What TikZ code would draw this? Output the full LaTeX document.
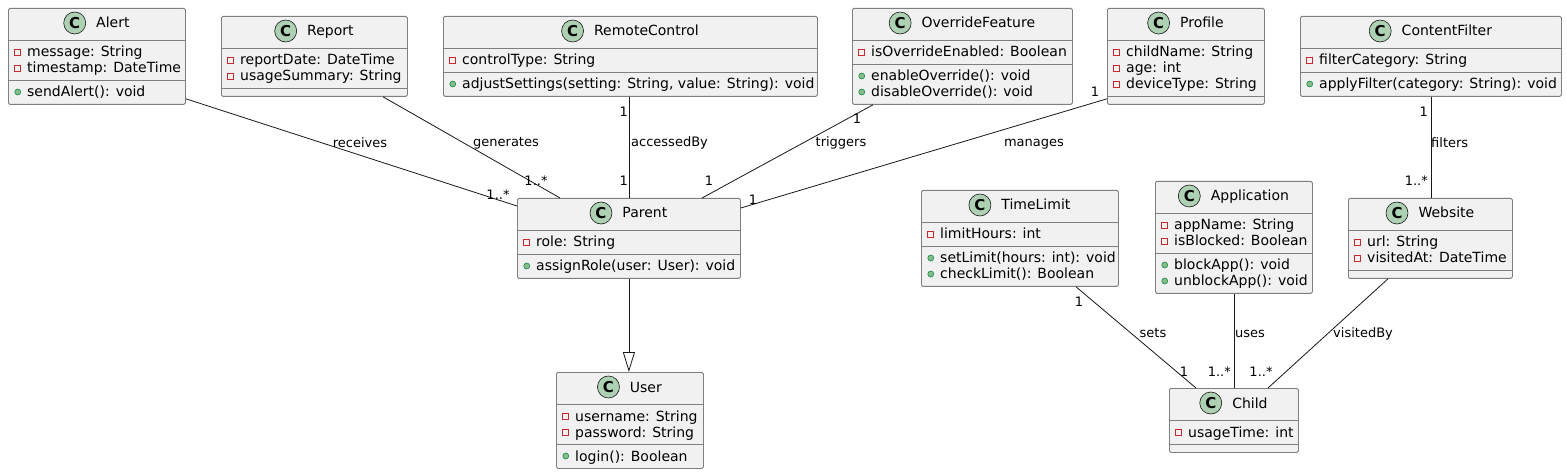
\documentclass[tikz,border=0pt]{standalone}
\usepackage{fontspec}
\setmainfont{DejaVu Sans}
\usetikzlibrary{positioning,arrows.meta}
\definecolor{clsfill}{HTML}{F1F1F1}
\definecolor{clsline}{HTML}{7F7F7F}
\definecolor{edgeline}{HTML}{181818}
\definecolor{cfill}{HTML}{ADD1B2}
\definecolor{privred}{HTML}{C82930}
\definecolor{pubfill}{HTML}{84BE84}
\definecolor{publine}{HTML}{038048}
\begin{document}
\begin{tikzpicture}[
  x=1pt, y=-1pt,
  font=\fontsize{14}{16}\selectfont,
  cls/.style={draw=clsline,fill=clsfill,line width=0.8pt,
    rounded corners=1.5pt,anchor=north west,inner sep=0pt},
  sep/.style={draw=clsline,line width=0.8pt},
  ttl/.style={inner sep=0pt,text height=10pt,text depth=0pt},
  cmark/.style={circle,draw=edgeline,fill=cfill,line width=0.6pt,
    minimum size=22pt,inner sep=0pt,font=\fontsize{15}{15}\selectfont\bfseries},
  mem/.style={anchor=west,inner sep=0pt,text height=10pt,text depth=0pt},
  privm/.style={rectangle,draw=privred,line width=0.7pt,
    minimum size=6pt,inner sep=0pt,label distance=6pt},
  pubm/.style={circle,draw=publine,fill=pubfill,line width=0.5pt,
    minimum size=6pt,inner sep=0pt,label distance=6pt},
  priv/.style={mem,label={[privm]left:{}}},
  pub/.style={mem,label={[pubm]left:{}}},
  assoc/.style={draw=edgeline,line width=0.8pt},
  inherit/.style={assoc,-{Triangle[open,length=20pt,width=12pt]}},
  elbl/.style={inner sep=0pt,text height=10pt,text depth=0pt,
    font=\fontsize{13}{15}\selectfont}]
\useasboundingbox[fill=white] (0,0) rectangle (1567,473);

% Alert
\node[cls,minimum width=177pt,minimum height=96pt] (alert) at (8,8) {};
\node[ttl] (alertT) at ([xshift=16pt,yshift=-15pt]alert.north) {Alert};
\node[cmark,left=10pt of alertT] (alertC) {C};
\draw[sep] ([yshift=-32pt]alert.north west) -- ([yshift=-32pt]alert.north east);
\draw[sep] ([yshift=-72pt]alert.north west) -- ([yshift=-72pt]alert.north east);
\node[priv] (alertA1) at ([shift={(19pt,-44pt)}]alert.north west) {message: String};
\node[priv] (alertA2) at ([shift={(19pt,-60pt)}]alert.north west) {timestamp: DateTime};
\node[pub] (alertM1) at ([shift={(19pt,-84pt)}]alert.north west) {sendAlert(): void};

% Report
\node[cls,minimum width=186pt,minimum height=80pt] (report) at (221,16) {};
\node[ttl] (reportT) at ([xshift=16pt,yshift=-15pt]report.north) {Report};
\node[cmark,left=10pt of reportT] (reportC) {C};
\draw[sep] ([yshift=-32pt]report.north west) -- ([yshift=-32pt]report.north east);
\draw[sep] ([yshift=-72pt]report.north west) -- ([yshift=-72pt]report.north east);
\node[priv] (reportA1) at ([shift={(19pt,-44pt)}]report.north west) {reportDate: DateTime};
\node[priv] (reportA2) at ([shift={(19pt,-60pt)}]report.north west) {usageSummary: String};

% RemoteControl
\node[cls,minimum width=374pt,minimum height=80pt] (remote) at (443,16) {};
\node[ttl] (remoteT) at ([xshift=16pt,yshift=-15pt]remote.north) {RemoteControl};
\node[cmark,left=10pt of remoteT] (remoteC) {C};
\draw[sep] ([yshift=-32pt]remote.north west) -- ([yshift=-32pt]remote.north east);
\draw[sep] ([yshift=-56pt]remote.north west) -- ([yshift=-56pt]remote.north east);
\node[priv] (remoteA1) at ([shift={(19pt,-44pt)}]remote.north west) {controlType: String};
\node[pub] (remoteM1) at ([shift={(19pt,-68pt)}]remote.north west) {adjustSettings(setting: String, value: String): void};

% OverrideFeature
\node[cls,minimum width=220pt,minimum height=96pt] (override) at (852,8) {};
\node[ttl] (overrideT) at ([xshift=16pt,yshift=-15pt]override.north) {OverrideFeature};
\node[cmark,left=10pt of overrideT] (overrideC) {C};
\draw[sep] ([yshift=-32pt]override.north west) -- ([yshift=-32pt]override.north east);
\draw[sep] ([yshift=-56pt]override.north west) -- ([yshift=-56pt]override.north east);
\node[priv] (overrideA1) at ([shift={(19pt,-44pt)}]override.north west) {isOverrideEnabled: Boolean};
\node[pub] (overrideM1) at ([shift={(19pt,-68pt)}]override.north west) {enableOverride(): void};
\node[pub] (overrideM2) at ([shift={(19pt,-84pt)}]override.north west) {disableOverride(): void};

% Profile
\node[cls,minimum width=157pt,minimum height=96pt] (profile) at (1107,8) {};
\node[ttl] (profileT) at ([xshift=16pt,yshift=-15pt]profile.north) {Profile};
\node[cmark,left=10pt of profileT] (profileC) {C};
\draw[sep] ([yshift=-32pt]profile.north west) -- ([yshift=-32pt]profile.north east);
\draw[sep] ([yshift=-88pt]profile.north west) -- ([yshift=-88pt]profile.north east);
\node[priv] (profileA1) at ([shift={(19pt,-44pt)}]profile.north west) {childName: String};
\node[priv] (profileA2) at ([shift={(19pt,-60pt)}]profile.north west) {age: int};
\node[priv] (profileA3) at ([shift={(19pt,-76pt)}]profile.north west) {deviceType: String};

% ContentFilter
\node[cls,minimum width=261pt,minimum height=80pt] (filter) at (1300,16) {};
\node[ttl] (filterT) at ([xshift=16pt,yshift=-15pt]filter.north) {ContentFilter};
\node[cmark,left=10pt of filterT] (filterC) {C};
\draw[sep] ([yshift=-32pt]filter.north west) -- ([yshift=-32pt]filter.north east);
\draw[sep] ([yshift=-56pt]filter.north west) -- ([yshift=-56pt]filter.north east);
\node[priv] (filterA1) at ([shift={(19pt,-44pt)}]filter.north west) {filterCategory: String};
\node[pub] (filterM1) at ([shift={(19pt,-68pt)}]filter.north west) {applyFilter(category: String): void};

% Parent
\node[cls,minimum width=223pt,minimum height=80pt] (parent) at (517,198) {};
\node[ttl] (parentT) at ([xshift=16pt,yshift=-15pt]parent.north) {Parent};
\node[cmark,left=10pt of parentT] (parentC) {C};
\draw[sep] ([yshift=-32pt]parent.north west) -- ([yshift=-32pt]parent.north east);
\draw[sep] ([yshift=-56pt]parent.north west) -- ([yshift=-56pt]parent.north east);
\node[priv] (parentA1) at ([shift={(19pt,-44pt)}]parent.north west) {role: String};
\node[pub] (parentM1) at ([shift={(19pt,-68pt)}]parent.north west) {assignRole(user: User): void};

% User
\node[cls,minimum width=147pt,minimum height=96pt] (user) at (556,372) {};
\node[ttl] (userT) at ([xshift=16pt,yshift=-15pt]user.north) {User};
\node[cmark,left=10pt of userT] (userC) {C};
\draw[sep] ([yshift=-32pt]user.north west) -- ([yshift=-32pt]user.north east);
\draw[sep] ([yshift=-72pt]user.north west) -- ([yshift=-72pt]user.north east);
\node[priv] (userA1) at ([shift={(19pt,-44pt)}]user.north west) {username: String};
\node[priv] (userA2) at ([shift={(19pt,-60pt)}]user.north west) {password: String};
\node[pub] (userM1) at ([shift={(19pt,-84pt)}]user.north west) {login(): Boolean};

% TimeLimit
\node[cls,minimum width=197pt,minimum height=96pt] (timelimit) at (921,190) {};
\node[ttl] (timelimitT) at ([xshift=16pt,yshift=-15pt]timelimit.north) {TimeLimit};
\node[cmark,left=10pt of timelimitT] (timelimitC) {C};
\draw[sep] ([yshift=-32pt]timelimit.north west) -- ([yshift=-32pt]timelimit.north east);
\draw[sep] ([yshift=-56pt]timelimit.north west) -- ([yshift=-56pt]timelimit.north east);
\node[priv] (timelimitA1) at ([shift={(19pt,-44pt)}]timelimit.north west) {limitHours: int};
\node[pub] (timelimitM1) at ([shift={(19pt,-68pt)}]timelimit.north west) {setLimit(hours: int): void};
\node[pub] (timelimitM2) at ([shift={(19pt,-84pt)}]timelimit.north west) {checkLimit(): Boolean};

% Application
\node[cls,minimum width=157pt,minimum height=112pt] (app) at (1155,181) {};
\node[ttl] (appT) at ([xshift=16pt,yshift=-15pt]app.north) {Application};
\node[cmark,left=10pt of appT] (appC) {C};
\draw[sep] ([yshift=-32pt]app.north west) -- ([yshift=-32pt]app.north east);
\draw[sep] ([yshift=-72pt]app.north west) -- ([yshift=-72pt]app.north east);
\node[priv] (appA1) at ([shift={(19pt,-44pt)}]app.north west) {appName: String};
\node[priv] (appA2) at ([shift={(19pt,-60pt)}]app.north west) {isBlocked: Boolean};
\node[pub] (appM1) at ([shift={(19pt,-84pt)}]app.north west) {blockApp(): void};
\node[pub] (appM2) at ([shift={(19pt,-100pt)}]app.north west) {unblockApp(): void};

% Website
\node[cls,minimum width=164pt,minimum height=80pt] (website) at (1348,198) {};
\node[ttl] (websiteT) at ([xshift=16pt,yshift=-15pt]website.north) {Website};
\node[cmark,left=10pt of websiteT] (websiteC) {C};
\draw[sep] ([yshift=-32pt]website.north west) -- ([yshift=-32pt]website.north east);
\draw[sep] ([yshift=-72pt]website.north west) -- ([yshift=-72pt]website.north east);
\node[priv] (websiteA1) at ([shift={(19pt,-44pt)}]website.north west) {url: String};
\node[priv] (websiteA2) at ([shift={(19pt,-60pt)}]website.north west) {visitedAt: DateTime};

% Child
\node[cls,minimum width=129pt,minimum height=64pt] (child) at (1169,388) {};
\node[ttl] (childT) at ([xshift=16pt,yshift=-15pt]child.north) {Child};
\node[cmark,left=10pt of childT] (childC) {C};
\draw[sep] ([yshift=-32pt]child.north west) -- ([yshift=-32pt]child.north east);
\draw[sep] ([yshift=-56pt]child.north west) -- ([yshift=-56pt]child.north east);
\node[priv] (childA1) at ([shift={(19pt,-44pt)}]child.north west) {usageTime: int};

% connectors
\draw[assoc] ([yshift=6pt]alert.south east) -- ([yshift=-8pt]parent.north west);
\draw[assoc] ([xshift=162pt]report.south west) -- ([xshift=43pt]parent.north west);
\draw[assoc] (parent.north |- remote.south) -- (parent.north);
\draw[assoc] ([xshift=21pt]override.south west) -- ([xshift=185pt]parent.north west);
\draw[assoc] ([yshift=6pt]profile.south west) -- ([yshift=-10pt]parent.north east);
\draw[inherit] (parent.south) -- (parent.south |- user.north);
\draw[assoc] ([xshift=155pt]timelimit.south west) -- ([xshift=27pt]child.north west);
\draw[assoc] (app.south) -- (child.north);
\draw[assoc] ([xshift=40pt]website.south west) -- ([xshift=99pt]child.north west);
\draw[assoc] (filter.south) -- (filter.south |- website.north);

% labels and multiplicities
\node[elbl] (lReceives) at (360,143) {receives};
\node[elbl] (mAlertP) at (498,195) {1..*};
\node[elbl] (lGenerates) at (506,142) {generates};
\node[elbl] (mReportP) at (536,181) {1..*};
\node[elbl,anchor=east] (mRemote) at (628,112) {1};
\node[elbl,anchor=west] (lAccessed) at (631,142) {accessedBy};
\node[elbl,anchor=east] (mRemoteP) at (628,181) {1};
\node[elbl] (mOverride) at (857,119) {1};
\node[elbl] (lTriggers) at (841,142) {triggers};
\node[elbl] (mOverrideP) at (709,181) {1};
\node[elbl] (mProfile) at (1095,92) {1};
\node[elbl] (lManages) at (1034,142) {manages};
\node[elbl] (mProfileP) at (753,200) {1};
\node[elbl] (mTime) at (1079,301) {1};
\node[elbl] (lSets) at (1153,332) {sets};
\node[elbl] (mTimeC) at (1184,371) {1};
\node[elbl,anchor=west] (lUses) at (1235,332) {uses};
\node[elbl,anchor=east] (mAppC) at (1231,371) {1..*};
\node[elbl,anchor=west] (lVisited) at (1333,332) {visitedBy};
\node[elbl] (mWebC) at (1261,371) {1..*};
\node[elbl,anchor=east] (mFilter) at (1428,112) {1};
\node[elbl,anchor=west] (lFilters) at (1431,143) {filters};
\node[elbl,anchor=east] (mFilterW) at (1428,181) {1..*};
\end{tikzpicture}
\end{document}
